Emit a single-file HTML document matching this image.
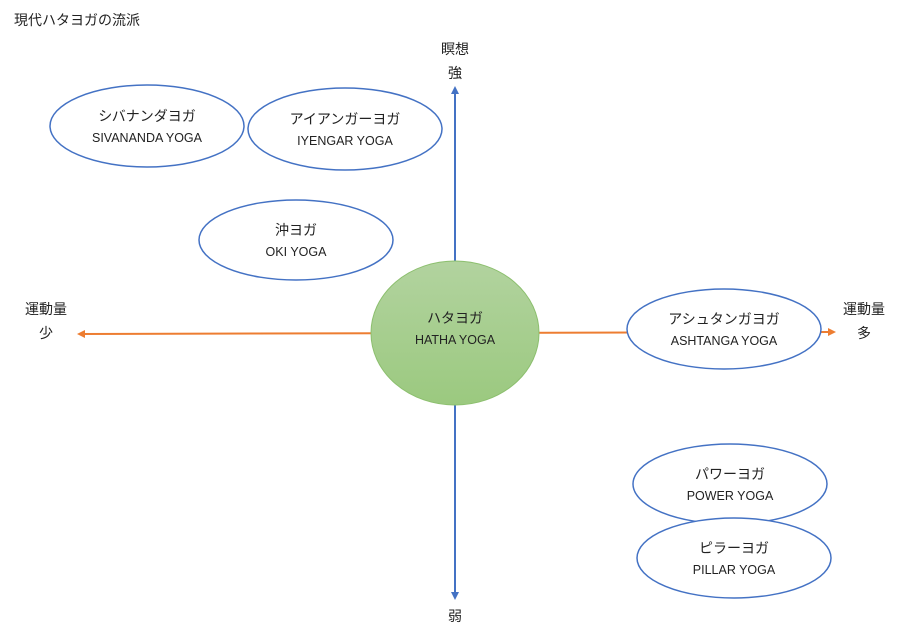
<!DOCTYPE html>
<html><head><meta charset="utf-8"><style>
html,body{margin:0;padding:0;background:#fff;width:922px;height:629px;overflow:hidden}
svg{display:block}
text{font-family:"Liberation Sans","Noto Sans CJK JP",sans-serif;fill:#222}
.jp{font-size:14px}
.en{font-size:12.5px;font-weight:normal}
</style></head><body>
<svg width="922" height="629" viewBox="0 0 922 629" xmlns="http://www.w3.org/2000/svg">
<defs>
<linearGradient id="g" x1="0" y1="0" x2="0" y2="1">
<stop offset="0" stop-color="#b2d39f"/><stop offset="1" stop-color="#9bc97f"/>
</linearGradient>
<marker id="ab" markerWidth="8" markerHeight="8" refX="4" refY="4" orient="auto" markerUnits="userSpaceOnUse"><path d="M0,0 L8,4 L0,8 z" fill="#4472c4"/></marker>
<marker id="ao" markerWidth="8" markerHeight="8" refX="4" refY="4" orient="auto" markerUnits="userSpaceOnUse"><path d="M0,0 L8,4 L0,8 z" fill="#ed7d31"/></marker>
</defs>
<text x="14" y="25" style="font-size:14px">現代ハタヨガの流派</text>
<line x1="455" y1="598" x2="455" y2="90" stroke="#4472c4" stroke-width="2" marker-end="url(#ab)"/>
<line x1="455" y1="280" x2="455" y2="596" stroke="#4472c4" stroke-width="2" marker-end="url(#ab)"/>
<line x1="455" y1="333" x2="81" y2="334" stroke="#ed7d31" stroke-width="2" marker-end="url(#ao)"/>
<line x1="455" y1="333" x2="832" y2="332" stroke="#ed7d31" stroke-width="2" marker-end="url(#ao)"/>
<g fill="#fff" stroke="#4472c4" stroke-width="1.5">
<ellipse cx="147" cy="126" rx="97" ry="41"/>
<ellipse cx="345" cy="129" rx="97" ry="41"/>
<ellipse cx="296" cy="240" rx="97" ry="40"/>
<ellipse cx="724" cy="329" rx="97" ry="40"/>
<ellipse cx="730" cy="484" rx="97" ry="40"/>
<ellipse cx="734" cy="558" rx="97" ry="40"/>
</g>
<ellipse cx="455" cy="333" rx="84" ry="72" fill="url(#g)" stroke="#8cbf6e" stroke-width="1"/>
<g text-anchor="middle">
<text class="jp" x="147" y="121">シバナンダヨガ</text><text class="en" x="147" y="142">SIVANANDA YOGA</text>
<text class="jp" x="345" y="124">アイアンガーヨガ</text><text class="en" x="345" y="145">IYENGAR YOGA</text>
<text class="jp" x="296" y="235">沖ヨガ</text><text class="en" x="296" y="256">OKI YOGA</text>
<text class="jp" x="455" y="323">ハタヨガ</text><text class="en" x="455" y="344">HATHA YOGA</text>
<text class="jp" x="724" y="324">アシュタンガヨガ</text><text class="en" x="724" y="345">ASHTANGA YOGA</text>
<text class="jp" x="730" y="479">パワーヨガ</text><text class="en" x="730" y="500">POWER YOGA</text>
<text class="jp" x="734" y="553">ピラーヨガ</text><text class="en" x="734" y="574">PILLAR YOGA</text>
<text class="jp" x="455" y="54">瞑想</text><text class="jp" x="455" y="78">強</text>
<text class="jp" x="455" y="621">弱</text>
<text class="jp" x="46" y="314">運動量</text><text class="jp" x="46" y="338">少</text>
<text class="jp" x="864" y="314">運動量</text><text class="jp" x="864" y="338">多</text>
</g>
</svg>
</body></html>
